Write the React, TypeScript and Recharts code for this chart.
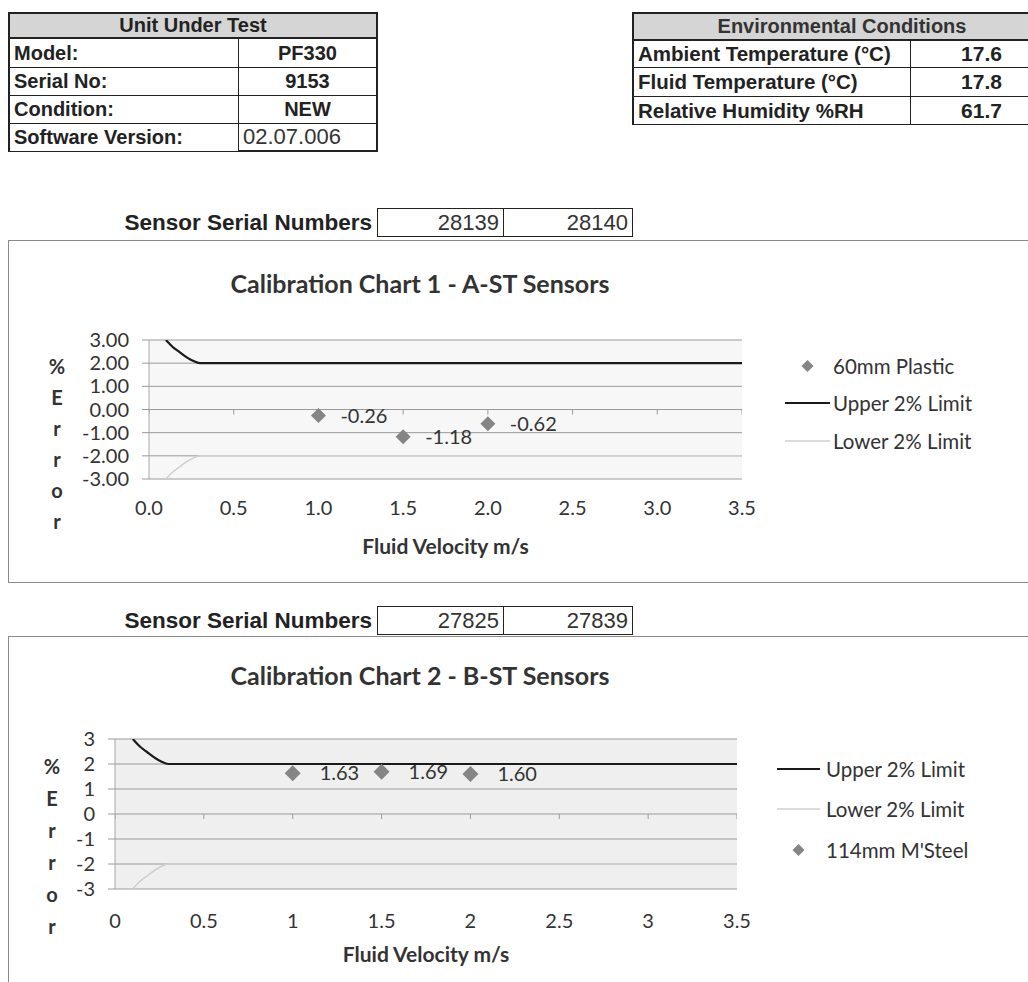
import React from 'react';
import { ComposedChart, Line, Scatter, XAxis, YAxis, CartesianGrid, Legend } from 'recharts';

// ---------- data ----------
const unitRows: [string, string][] = [
  ['Model:', 'PF330'],
  ['Serial No:', '9153'],
  ['Condition:', 'NEW'],
  ['Software Version:', '02.07.006'],
];
const envRows: [string, string][] = [
  ['Ambient Temperature (°C)', '17.6'],
  ['Fluid Temperature (°C)', '17.8'],
  ['Relative Humidity %RH', '61.7'],
];
const sensorSerials1 = ['28139', '28140'];
const sensorSerials2 = ['27825', '27839'];

const velocityTicks = [0, 0.5, 1, 1.5, 2, 2.5, 3, 3.5];
const errorTicks = [-3, -2, -1, 0, 1, 2, 3];

const limitVelocity = [0.1, 0.14, 0.18, 0.23, 0.26, 0.3, 3.5];
const upperLimit = [3.0, 2.7, 2.48, 2.22, 2.1, 2.0, 2.0];
const lowerLimit = [-3.0, -2.7, -2.48, -2.22, -2.1, -2.0, -2.0];

const chart1Velocity = [1.0, 1.5, 2.0];
const chart1Error = [-0.26, -1.18, -0.62];
const chart2Velocity = [1, 1.5, 2];
const chart2Error = [1.63, 1.69, 1.6];

// ---------- helpers ----------
const zip = (xs: number[], ys: number[]) => xs.map((x, i) => ({ x, y: ys[i] }));
const upperData = zip(limitVelocity, upperLimit);
const lowerData = zip(limitVelocity, lowerLimit);
const zeroTickData = velocityTicks.map((x) => ({ x, y: 0 }));

const TABLE_FONT = '"Liberation Sans", Arial, sans-serif';
const CHART_FONT = 'Lato, "Open Sans", sans-serif';
const INK = '#222';
const TXT = '#333';

type CellProps = { x: number; y: number; w: number; h: number; style?: React.CSSProperties; children?: React.ReactNode };
const Cell = ({ x, y, w, h, style, children }: CellProps) => (
  <div
    style={{
      position: 'absolute', left: x, top: y, width: w, height: h, boxSizing: 'border-box',
      display: 'flex', alignItems: 'center', whiteSpace: 'nowrap', ...style,
    }}
  >
    {children}
  </div>
);

const UnitTable = () => {
  const x0 = 8, x1 = 239, x2 = 378;
  const ys = [12, 39, 68, 96, 124, 152];
  return (
    <>
      <Cell x={x0} y={ys[0]} w={x2 - x0} h={ys[1] - ys[0]}
        style={{ background: '#d5d5d5', justifyContent: 'center', fontWeight: 700, fontSize: 20, border: `2px solid ${INK}` }}>
        Unit Under Test
      </Cell>
      {unitRows.map(([k, v], i) => (
        <React.Fragment key={k}>
          <Cell x={x0} y={ys[i + 1]} w={x1 - x0} h={ys[i + 2] - ys[i + 1]}
            style={{ fontWeight: 700, fontSize: 20, paddingLeft: 4, borderLeft: `2px solid ${INK}`, borderBottom: `1.5px solid ${INK}`, borderRight: `1.5px solid ${INK}` }}>
            {k}
          </Cell>
          <Cell x={x1} y={ys[i + 1]} w={x2 - x1} h={ys[i + 2] - ys[i + 1]}
            style={i === 3
              ? { fontSize: 22, paddingLeft: 4, borderRight: `2px solid ${INK}`, borderBottom: `2px solid ${INK}`, color: '#333' }
              : { fontWeight: 700, fontSize: 20, justifyContent: 'center', borderRight: `2px solid ${INK}`, borderBottom: `1.5px solid ${INK}` }}>
            {v}
          </Cell>
        </React.Fragment>
      ))}
    </>
  );
};

const EnvTable = () => {
  const x0 = 632, x1 = 911, x2 = 1052;
  const ys = [12, 41, 68, 97, 125];
  return (
    <>
      <Cell x={x0} y={ys[0]} w={x2 - x0} h={ys[1] - ys[0]}
        style={{ background: '#d5d5d5', justifyContent: 'center', fontWeight: 700, fontSize: 20, border: `2px solid ${INK}`, color: '#333' }}>
        Environmental Conditions
      </Cell>
      {envRows.map(([k, v], i) => (
        <React.Fragment key={k}>
          <Cell x={x0} y={ys[i + 1]} w={x1 - x0} h={ys[i + 2] - ys[i + 1]}
            style={{ fontWeight: 700, fontSize: 20.5, paddingLeft: 4, borderLeft: `2px solid ${INK}`, borderBottom: `1.5px solid ${INK}`, borderRight: `1.5px solid ${INK}` }}>
            {k}
          </Cell>
          <Cell x={x1} y={ys[i + 1]} w={x2 - x1} h={ys[i + 2] - ys[i + 1]}
            style={{ fontWeight: 700, fontSize: 21, justifyContent: 'center', borderBottom: `1.5px solid ${INK}` }}>
            {v}
          </Cell>
        </React.Fragment>
      ))}
    </>
  );
};

const SerialRow = ({ y, serials }: { y: number; serials: string[] }) => (
  <>
    <Cell x={60} y={y} w={312} h={29} style={{ justifyContent: 'flex-end', fontWeight: 700, fontSize: 22.5 }}>
      Sensor Serial Numbers
    </Cell>
    {serials.map((s, i) => (
      <Cell key={s} x={377 + i * 127} y={y} w={i === 0 ? 127 : 129} h={29}
        style={{ justifyContent: 'flex-end', paddingRight: 4, fontSize: 22, color: '#333', border: `1.5px solid ${INK}`, borderLeft: i === 0 ? `1.5px solid ${INK}` : 'none' }}>
        {s}
      </Cell>
    ))}
  </>
);

type LegendEntry = { kind: 'diamond' | 'line'; color: string; label: string; width?: number };

type ChartProps = {
  svgTop: number; height: number;
  plotLeft: number; plotRight: number; plotTop: number; plotBottom: number;
  points: { x: number; y: number }[];
  yFmt: (v: number) => string; xFmt: (v: number) => string;
  yLabelX: number; yLabelY0: number; yLabelStep: number;
  xLabelY: number; xTickMargin: number;
  legend: LegendEntry[]; legendIconL: number; legendIconR: number; legendTextX: number; legendY: number[];
  plotFill: string; diamond: number; labelGap: number; order: ('scatter' | 'upper' | 'lower')[];
};

const FONT_SIZE = 20;

const CalChart = (p: ChartProps) => {
  const W = 1028;
  const yAxisW = 60;
  const xAxisH = 30;
  const margin = {
    top: p.plotTop - p.svgTop,
    left: p.plotLeft - yAxisW,
    right: W - p.plotRight,
    bottom: p.height - (p.plotBottom - p.svgTop) - xAxisH,
  };
  const diamondShape = (props: any) => {
    const { cx, cy, payload } = props;
    const d = p.diamond;
    return (
      <g>
        <path d={`M${cx},${cy - d}L${cx + d},${cy}L${cx},${cy + d}L${cx - d},${cy}Z`} fill="#858585" />
        <text x={cx + p.labelGap} y={cy} dy="0.35em" fontSize={FONT_SIZE} fill={TXT} fontFamily={CHART_FONT}>
          {payload.y.toFixed(2)}
        </text>
      </g>
    );
  };
  const zeroTickShape = (props: any) => {
    const { cx, cy } = props;
    return <line x1={cx} x2={cx} y1={cy} y2={cy + 5} stroke="#9a9a9a" strokeWidth={1} />;
  };
  const yLabel = () => (
    <text fontSize={20} fontWeight={700} fill={TXT} fontFamily={CHART_FONT} textAnchor="middle">
      {['%', 'E', 'r', 'r', 'o', 'r'].map((c, i) => (
        <tspan key={i} x={p.yLabelX} y={p.yLabelY0 - p.svgTop + i * p.yLabelStep} dy="0.35em">{c}</tspan>
      ))}
    </text>
  );
  const xLabel = () => (
    <text x={(p.plotLeft + p.plotRight) / 2} y={p.xLabelY - p.svgTop} dy="0.35em" textAnchor="middle"
      fontSize={21} fontWeight={700} fill={TXT} fontFamily={CHART_FONT}>
      Fluid Velocity m/s
    </text>
  );
  const legendContent = () => (
    <div style={{ position: 'relative', width: W, height: p.height }}>
      {p.legend.map((e, i) => {
        const cy = p.legendY[i] - p.svgTop;
        const cxm = (p.legendIconL + p.legendIconR) / 2;
        return (
          <React.Fragment key={e.label}>
            <svg style={{ position: 'absolute', left: 0, top: 0, overflow: 'visible' }} width={1} height={1}>
              {e.kind === 'diamond' ? (
                <path d={`M${cxm},${cy - 6}L${cxm + 6},${cy}L${cxm},${cy + 6}L${cxm - 6},${cy}Z`} fill="#858585" />
              ) : (
                <line x1={p.legendIconL} x2={p.legendIconR} y1={cy} y2={cy} stroke={e.color} strokeWidth={e.width ?? 2} />
              )}
            </svg>
            <div style={{
              position: 'absolute', left: p.legendTextX, top: cy - 14, height: 28, lineHeight: '28px',
              fontFamily: CHART_FONT, fontSize: 20.5, color: TXT, whiteSpace: 'nowrap',
            }}>
              {e.label}
            </div>
          </React.Fragment>
        );
      })}
    </div>
  );

  const series = {
    scatter: (
      <Scatter key="s" name="pts" data={p.points} shape={diamondShape} isAnimationActive={false} legendType="none" />
    ),
    upper: (
      <Line key="u" data={upperData} dataKey="y" type="monotone" stroke="#1a1a1a" strokeWidth={2.2} dot={false}
        activeDot={false} isAnimationActive={false} />
    ),
    lower: (
      <Line key="l" data={lowerData} dataKey="y" type="monotone" stroke="#cfcfcf" strokeWidth={1.5} dot={false}
        activeDot={false} isAnimationActive={false} />
    ),
  };

  return (
    <div style={{ position: 'absolute', left: 0, top: p.svgTop }}>
      <ComposedChart width={W} height={p.height} margin={margin}>
        <CartesianGrid horizontal vertical={false} stroke="#9a9a9a" strokeWidth={1} fill={p.plotFill} />
        <XAxis type="number" dataKey="x" domain={[0, 3.5]} ticks={velocityTicks} allowDataOverflow interval={0}
          axisLine={false} tickLine={false} tickSize={0} tickMargin={p.xTickMargin} height={xAxisH}
          tickFormatter={p.xFmt} tick={{ fontSize: FONT_SIZE, fill: TXT, fontFamily: CHART_FONT }}
          label={{ content: xLabel }} />
        <YAxis type="number" dataKey="y" domain={[-3, 3]} ticks={errorTicks} allowDataOverflow width={yAxisW} interval={0}
          axisLine={{ stroke: '#a8a8a8' }} tickLine={{ stroke: '#9a9a9a' }} tickSize={7} tickMargin={13}
          tickFormatter={p.yFmt} tick={{ fontSize: FONT_SIZE, fill: TXT, fontFamily: CHART_FONT }}
          label={{ content: yLabel }} />
        <Scatter name="axis-ticks" data={zeroTickData} shape={zeroTickShape} isAnimationActive={false} legendType="none" />
        {p.order.map((k) => series[k])}
        <Legend layout="vertical" align="center" verticalAlign="middle" content={legendContent}
          wrapperStyle={{ left: 0, top: 0, width: W, height: p.height, pointerEvents: 'none' }} />
      </ComposedChart>
    </div>
  );
};

const Panel = ({ top, bottom }: { top: number; bottom?: number }) => (
  <div style={{
    position: 'absolute', left: 8, top, width: 1100, height: (bottom ?? 1100) - top, boxSizing: 'border-box',
    border: '1.5px solid #8a8a8a',
  }} />
);

const Title = ({ y, text }: { y: number; text: string }) => (
  <div style={{
    position: 'absolute', left: 120, width: 600, top: y - 16, height: 32, lineHeight: '32px', textAlign: 'center',
    fontFamily: CHART_FONT, fontWeight: 700, fontSize: 25, color: TXT, whiteSpace: 'nowrap',
  }}>
    {text}
  </div>
);

export default function App() {
  return (
    <div style={{
      position: 'absolute', left: 0, top: 0, width: 1028, height: 982, overflow: 'hidden', background: '#fff',
      fontFamily: TABLE_FONT, color: INK,
    }}>
      <UnitTable />
      <EnvTable />

      <SerialRow y={208} serials={sensorSerials1} />
      <Panel top={240} bottom={583} />
      <Title y={283} text="Calibration Chart 1 - A-ST Sensors" />
      <CalChart
        svgTop={300} height={275}
        plotLeft={149} plotRight={742} plotTop={340} plotBottom={479}
        points={zip(chart1Velocity, chart1Error)}
        yFmt={(v) => v.toFixed(2)} xFmt={(v) => v.toFixed(1)}
        yLabelX={57} yLabelY0={367} yLabelStep={31}
        xLabelY={547} xTickMargin={22}
        legend={[
          { kind: 'diamond', color: '#858585', label: '60mm Plastic' },
          { kind: 'line', color: '#1a1a1a', label: 'Upper 2% Limit' },
          { kind: 'line', color: '#cfcfcf', label: 'Lower 2% Limit', width: 1.5 },
        ]}
        legendIconL={785} legendIconR={830} legendTextX={833} legendY={[366, 403, 441]}
        plotFill="#f7f7f7" diamond={7.5} labelGap={22} order={['upper', 'lower', 'scatter']}
      />

      <SerialRow y={606} serials={sensorSerials2} />
      <Panel top={636} />
      <Title y={675} text="Calibration Chart 2 - B-ST Sensors" />
      <CalChart
        svgTop={690} height={290}
        plotLeft={115} plotRight={737} plotTop={739} plotBottom={889}
        points={zip(chart2Velocity, chart2Error)}
        yFmt={(v) => String(v)} xFmt={(v) => String(v)}
        yLabelX={52} yLabelY0={767} yLabelStep={32}
        xLabelY={955} xTickMargin={25}
        legend={[
          { kind: 'line', color: '#1a1a1a', label: 'Upper 2% Limit' },
          { kind: 'line', color: '#cfcfcf', label: 'Lower 2% Limit', width: 1.5 },
          { kind: 'diamond', color: '#858585', label: "114mm M'Steel" },
        ]}
        legendIconL={777} legendIconR={820} legendTextX={826} legendY={[769, 809, 850]}
        plotFill="#efefef" diamond={8} labelGap={27} order={['upper', 'lower', 'scatter']}
      />
    </div>
  );
}
